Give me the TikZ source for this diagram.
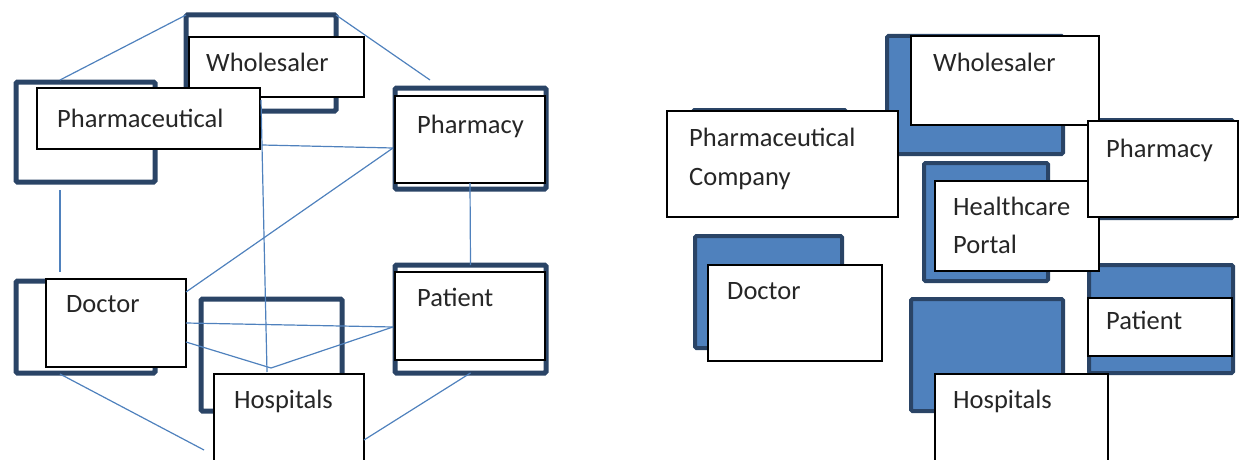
\documentclass[tikz,border=0pt]{standalone}
\usepackage{fontspec}
\setmainfont{Carlito}
\usetikzlibrary{calc}
\definecolor{navy}{HTML}{2A4466}
\definecolor{mblue}{HTML}{4F81BD}
\newcommand\bx[6]{\node[#2,anchor=north west,minimum width={(#5-#3)*1pt},minimum height={(#6-#4)*1pt}] (#1) at (#3pt,-#4pt) {};}
\tikzset{
  thickbox/.style={draw=navy,line width=5pt,rounded corners=1.5pt,inner sep=0pt,outer sep=0pt},
  fillbox/.style={draw=navy,fill=mblue,line width=4pt,rounded corners=1.5pt,inner sep=0pt,outer sep=0pt},
  frontbox/.style={draw=black,fill=white,line width=1.4pt,inner sep=0pt,outer sep=0pt},
  lbl/.style={inner sep=0pt,anchor=base west,font=\fontsize{26.5}{32}\selectfont,text=black!85},
  conn/.style={draw=mblue,line width=1.2pt}
}
\begin{document}
\begin{tikzpicture}[x=1pt,y=1pt]
\useasboundingbox (0,0) rectangle (1239,-460);
% ---------------- left panel ----------------
% connectors
\bx{wbL}{thickbox}{186}{15}{336}{111}
\bx{pbL}{thickbox}{16}{82}{155}{182}
\bx{rbL}{thickbox}{395}{88}{546}{189}
\bx{dbL}{thickbox}{16}{281}{155}{373}
\bx{hbL}{thickbox}{201}{299}{342}{411}
\bx{tbL}{thickbox}{395}{265}{546}{373}
\bx{wfL}{frontbox}{189}{37}{364}{97}
\bx{pfL}{frontbox}{37}{88}{260}{149}
\bx{rfL}{frontbox}{395}{96}{545}{183}
\bx{dfL}{frontbox}{46}{279}{186}{367}
\bx{hfL}{frontbox}{214}{374}{364}{475}
\bx{tfL}{frontbox}{395}{272}{545}{360}
\coordinate (rP) at ($(rfL.north west)+(-2,-52)$);
\coordinate (hP) at ($(hfL.north west)+(57,6)$);
\coordinate (tP) at ($(tfL.north west)+(-2,-55)$);
\draw[conn] ($(pbL.north west)+(44,2)$) -- (wbL.north west);
\draw[conn] (wbL.north east) -- ($(rbL.north west)+(35,8)$);
\draw[conn] ($(pbL.south west)+(44,-8)$) -- ($(dbL.north west)+(44,9)$);
\draw[conn] ($(wfL.south west)+(72,-3)$) -- ($(hfL.north west)+(53,2)$);
\draw[conn] ($(pfL.south east)+(2,4)$) -- (rP);
\draw[conn] (rP) -- ($(dfL.north east)+(0,-13)$);
\draw[conn] (rfL.south) -- (tbL.north);
\draw[conn] (dfL.east) -- (tP);
\draw[conn] ($(dfL.north east)+(0,-63)$) -- (hP);
\draw[conn] (hP) -- (tP);
\draw[conn] ($(dbL.south west)+(44,-1)$) -- ($(hfL.north west)+(-10,-76)$);
\draw[conn] (tbL.south) -- ($(hfL.north east)+(0,-66)$);
% labels
\node[lbl] (twL) at ($(wfL.north west)+(17,-34)$) {Wholesaler};
\node[lbl] (tpL) at ($(pfL.north west)+(20,-39)$) {Pharmaceutical};
\node[lbl] (trL) at ($(rfL.north west)+(22,-37)$) {Pharmacy};
\node[lbl] (tdL) at ($(dfL.north west)+(20,-33)$) {Doctor};
\node[lbl] (ttL) at ($(tfL.north west)+(22,-34)$) {Patient};
\node[lbl] (thL) at ($(hfL.north west)+(20,-34)$) {Hospitals};
% ---------------- right panel ----------------
\bx{pbR}{fillbox}{693}{110}{846}{200}
\bx{wbR}{fillbox}{887}{36}{1063}{154}
\bx{hbR}{fillbox}{924}{163}{1048}{281}
\bx{rbR}{fillbox}{1089}{120}{1233}{218}
\bx{dbR}{fillbox}{695}{236}{842}{348}
\bx{obR}{fillbox}{911}{299}{1063}{411}
\bx{tbR}{fillbox}{1089}{265}{1233}{373}
\bx{wfR}{frontbox}{911}{36}{1099}{125}
\bx{hfR}{frontbox}{935}{181}{1099}{271}
\bx{rfR}{frontbox}{1088}{121}{1238}{217}
\bx{pfR}{frontbox}{667}{111}{898}{217}
\bx{dfR}{frontbox}{708}{265}{882}{361}
\bx{ofR}{frontbox}{935}{374}{1108}{475}
\bx{tfR}{frontbox}{1088}{298}{1232}{356}
\node[lbl] (twR) at ($(wfR.north west)+(22,-35)$) {Wholesaler};
\node[lbl] (tpR1) at ($(pfR.north west)+(22,-35)$) {Pharmaceutical};
\node[lbl] (tpR2) at ($(pfR.north west)+(22,-74)$) {Company};
\node[lbl] (thR1) at ($(hfR.north west)+(18,-34)$) {Healthcare};
\node[lbl] (thR2) at ($(hfR.north west)+(18,-72)$) {Portal};
\node[lbl] (trR) at ($(rfR.north west)+(18,-36)$) {Pharmacy};
\node[lbl] (tdR) at ($(dfR.north west)+(19,-34)$) {Doctor};
\node[lbl] (ttR) at ($(tfR.north west)+(18,-31)$) {Patient};
\node[lbl] (toR) at ($(ofR.north west)+(18,-34)$) {Hospitals};
\end{tikzpicture}
\end{document}
